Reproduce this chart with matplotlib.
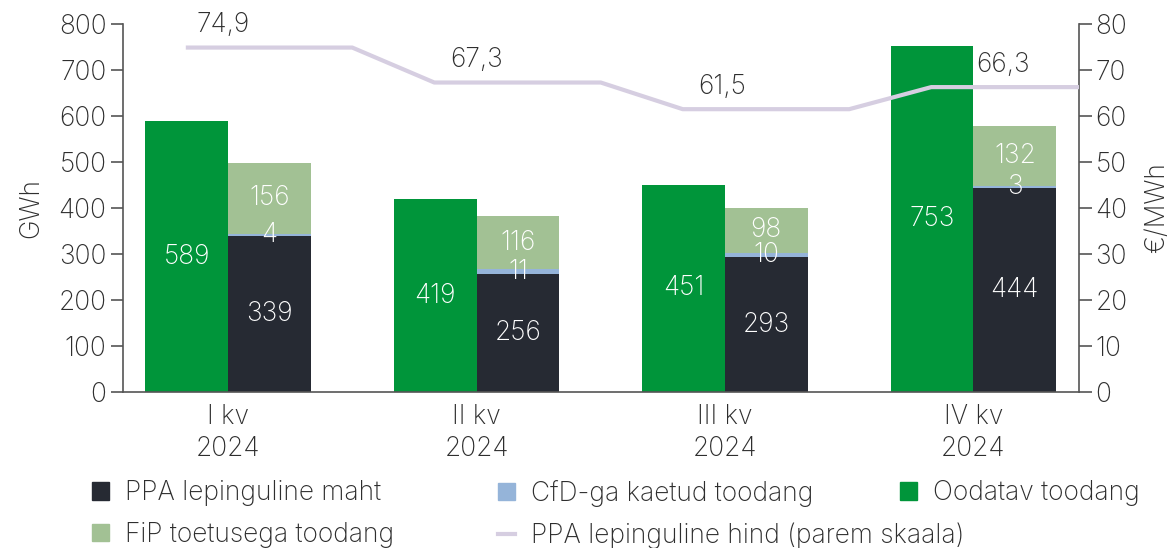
import matplotlib.pyplot as plt
from matplotlib.patches import Patch
from matplotlib.lines import Line2D
import numpy as np

# data
quarters = ['I kv\n2024', 'II kv\n2024', 'III kv\n2024', 'IV kv\n2024']
expected = [589, 419, 451, 753]        # Oodatav toodang
ppa_volume = [339, 256, 293, 444]      # PPA lepinguline maht
cfd = [4, 11, 10, 3]                   # CfD-ga kaetud toodang
fip = [156, 116, 98, 132]              # FiP toetusega toodang
ppa_price = [74.9, 67.3, 61.5, 66.3]   # PPA lepinguline hind, EUR/MWh
price_labels = ['74,9', '67,3', '61,5', '66,3']

# colours / style
c_dark = '#262a33'
c_green = '#00953a'
c_fip = '#a2c194'
c_cfd = '#95b4d9'
c_line = '#d6cee1'
c_text = '#2e2e2e'
c_spine = '#555555'
fs = 19

plt.rcParams['font.family'] = ['Inter', 'DejaVu Sans']
plt.rcParams['font.weight'] = 'light'
plt.rcParams['axes.labelweight'] = 'light'
plt.rcParams['text.color'] = c_text
plt.rcParams['axes.labelcolor'] = c_text
plt.rcParams['xtick.color'] = c_text
plt.rcParams['ytick.color'] = c_text

fig = plt.figure(figsize=(11.72, 5.48), dpi=100)
ax = fig.add_axes([0.105, 0.2847, 0.8156, 0.6713])
ax2 = ax.twinx()

x = np.arange(len(quarters))
w = 0.333
ppa_volume = np.array(ppa_volume)
cfd = np.array(cfd)
fip = np.array(fip)

ax.bar(x - w / 2, expected, w, color=c_green, zorder=2)
ax.bar(x + w / 2, ppa_volume, w, color=c_dark, zorder=2)
ax.bar(x + w / 2, cfd, w, bottom=ppa_volume, color=c_cfd, zorder=2)
ax.bar(x + w / 2, fip, w, bottom=ppa_volume + cfd, color=c_fip, zorder=2)

# value labels inside bars
for i in range(len(x)):
    ax.text(x[i] - w / 2, expected[i] / 2, str(expected[i]), ha='center', va='center',
            color='white', fontsize=fs, zorder=5)
    ax.text(x[i] + w / 2, ppa_volume[i] / 2, str(ppa_volume[i]), ha='center', va='center',
            color='white', fontsize=fs, zorder=5)
    ax.text(x[i] + w / 2, ppa_volume[i] + cfd[i] / 2, str(cfd[i]), ha='center', va='center',
            color='white', fontsize=fs, zorder=5)
    ax.text(x[i] + w / 2, ppa_volume[i] + cfd[i] + fip[i] / 2, str(fip[i]), ha='center',
            va='center', color='white', fontsize=fs, zorder=5)

# price line: flat segment per quarter, sloped joins
lx, ly = [], []
for i, p in enumerate(ppa_price):
    lx += [x[i] - 0.17, x[i] + 0.5]
    ly += [p, p]
ax2.plot(lx, ly, color=c_line, lw=3, solid_capstyle='butt', zorder=3)
label_dx = [-0.02, 0.0, -0.01, 0.12]
for i, p in enumerate(ppa_price):
    ax2.annotate(price_labels[i], (x[i] + label_dx[i], p), xytext=(0, 16),
                 textcoords='offset points', ha='center', va='center', fontsize=fs)

ax.set_xlim(-0.4225, 3.4245)
ax.set_ylim(0, 800)
ax2.set_ylim(0, 80)
ax.set_yticks(range(0, 801, 100))
ax2.set_yticks(range(0, 81, 10))
ax.set_xticks(x)
ax.set_xticklabels(quarters, fontsize=fs, linespacing=1.3)
ax.tick_params(axis='x', length=0, pad=9)
ax.tick_params(axis='y', length=9, width=1.2, color=c_spine, labelsize=fs, pad=3)
ax2.tick_params(axis='y', length=9, width=1.2, color=c_spine, labelsize=fs, pad=3)

for a in (ax, ax2):
    a.spines['top'].set_visible(False)
    for s in ('left', 'right', 'bottom'):
        a.spines[s].set_color(c_spine)
        a.spines[s].set_linewidth(1.2)
ax.spines['right'].set_visible(False)
ax2.spines['left'].set_visible(False)
ax2.spines['bottom'].set_visible(False)

ax.set_ylabel('GWh', fontsize=fs, labelpad=10)
ax2.set_ylabel('€/MWh', fontsize=fs, labelpad=12)

# legend: three columns placed like the reference
h_ppa = Patch(color=c_dark, label='PPA lepinguline maht')
h_fip = Patch(color=c_fip, label='FiP toetusega toodang')
h_cfd = Patch(color=c_cfd, label='CfD-ga kaetud toodang')
h_line = Line2D([], [], color=c_line, lw=3, label='PPA lepinguline hind (parem skaala)')
h_exp = Patch(color=c_green, label='Oodatav toodang')

leg_kw = dict(loc='upper left', frameon=False, fontsize=fs, handlelength=0.65,
              handleheight=0.65, handletextpad=0.6, labelspacing=0.6,
              borderpad=0, borderaxespad=0)
for hs, xa in (([h_ppa, h_fip], 92), ([h_cfd, h_line], 498), ([h_exp], 900)):
    fig.legend(handles=hs, bbox_to_anchor=(xa / 1172, 1 - 480 / 548), **leg_kw)

fig.savefig('out.png', dpi=100)
